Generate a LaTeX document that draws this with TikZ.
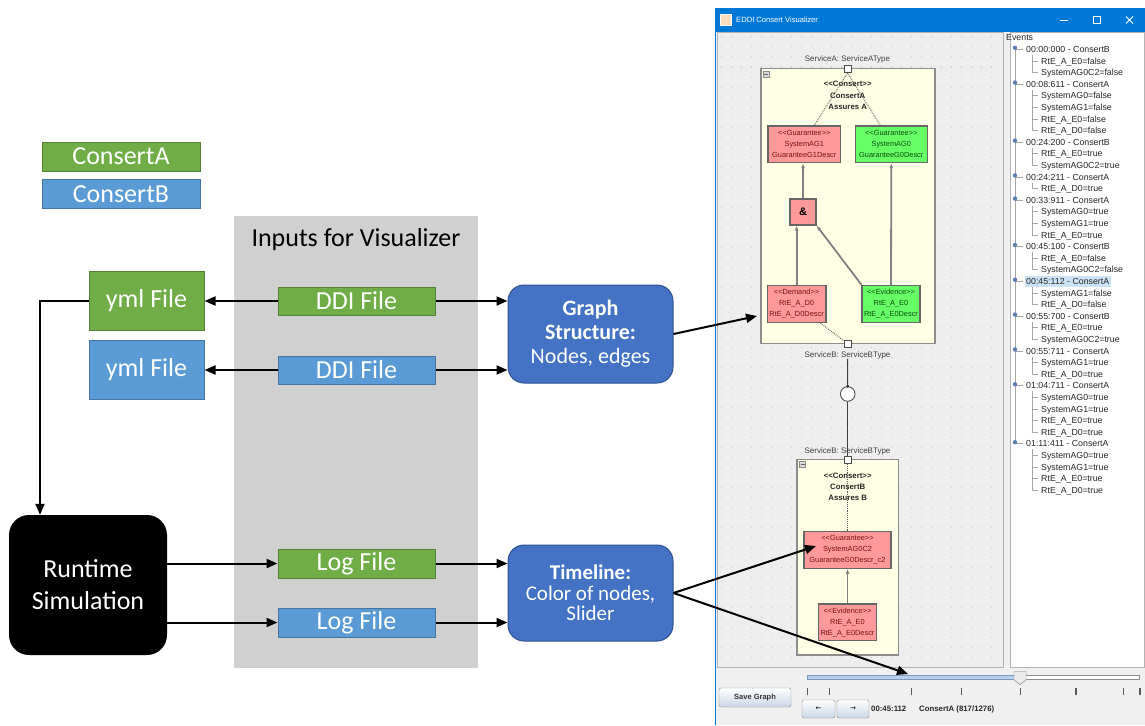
\documentclass[tikz,border=0pt]{standalone}
\usepackage{fontspec}
\setmainfont{Carlito}
\newfontfamily\guifont{Liberation Sans}
\newfontfamily\symfont{DejaVu Sans}
\usetikzlibrary{arrows.meta}

\definecolor{consA}{HTML}{70AD47}
\definecolor{consB}{HTML}{5B9BD5}
\definecolor{panelgray}{HTML}{D0D0D0}
\definecolor{gsblue}{HTML}{4472C4}
\definecolor{gsborder}{HTML}{2F528F}
\definecolor{titleblue}{HTML}{0078D7}
\definecolor{winbg}{HTML}{F0F0F0}
\definecolor{gridbg}{HTML}{EEEEEE}
\definecolor{svcyel}{HTML}{FFFFE6}
\definecolor{reqred}{HTML}{FF9A9A}
\definecolor{okgreen}{HTML}{66FF66}
\definecolor{reqtxt}{HTML}{7A1010}
\definecolor{oktxt}{HTML}{0B4D0B}
\definecolor{btnblue}{HTML}{C9D6E6}
\definecolor{slidefill}{HTML}{B8CFE8}
\definecolor{slideblue}{HTML}{7C9CC8}
\definecolor{treeknob}{HTML}{5B7FB0}
\definecolor{hilite}{HTML}{CCE3F7}

\newcommand\stereo[1]{<{}<#1>{}>}

\tikzset{
  legbox/.style={rectangle, draw=#1!75!black, fill=#1, text=white, line width=1pt,
          minimum width=158pt, minimum height=29pt, inner sep=0pt,
          font=\fontsize{26}{30}\selectfont},
  filebox/.style={rectangle, draw=#1!75!black, fill=#1, text=white, line width=1pt,
          inner sep=0pt, font=\fontsize{26}{30}\selectfont},
  rbox/.style={rectangle, rounded corners=16pt, draw=gsborder, fill=gsblue, text=white,
          line width=1pt, align=center, minimum width=165pt, inner sep=0pt},
  arr/.style={-{Triangle[length=11pt,width=9pt]}, line width=2pt},
  svcbox/.style={rectangle, fill=svcyel, draw=black!45, line width=1.6pt, inner sep=0pt},
  svclbl/.style={inner sep=0pt, text=black!75, font=\guifont\fontsize{8}{9}\selectfont},
  port/.style={rectangle, fill=white, draw=black!70, line width=0.8pt,
          minimum size=7pt, inner sep=0pt},
  mini/.style={rectangle, fill=black!15, draw=black!45, line width=0.5pt,
          minimum size=6pt, inner sep=0pt},
  cons/.style={align=center, inner sep=0pt, text=black!85,
          font=\guifont\bfseries\fontsize{7.8}{11.2}\selectfont},
  reqbox/.style={rectangle, fill=reqred, draw=black!60, line width=1.1pt, text=reqtxt,
          align=center, inner sep=0pt, font=\guifont\fontsize{7.4}{11}\selectfont},
  okbox/.style={reqbox, fill=okgreen, text=oktxt},
  garr/.style={-{Latex[length=5pt,width=4pt]}, draw=black!50, line width=1.8pt},
  dotlink/.style={densely dotted, draw=black!65, line width=0.9pt},
  wire/.style={draw=black!75, line width=1pt},
  gridpt/.style={draw=black!20, line width=1pt, dash pattern=on 1pt off 9pt},
  evtext/.style={anchor=base west, inner sep=0pt, text=black!85,
          font=\guifont\fontsize{8.8}{10}\selectfont},
  treeln/.style={draw=black!35, line width=0.6pt},
  btn/.style={rectangle, draw=black!45, top color=white, bottom color=btnblue,
          rounded corners=1.5pt, inner sep=0pt},
  stat/.style={anchor=west, inner sep=0pt, text=black!85,
          font=\guifont\bfseries\fontsize{7.8}{9}\selectfont},
}

\begin{document}
\begin{tikzpicture}[x=1pt,y=-1pt]
\useasboundingbox (0,0) rectangle (1145,725);
\fill[white] (0,0) rectangle (1145,725);

% legend
\node[legbox=consA] (legA) at (121,156.5) {ConsertA};
\node[legbox=consB] (legB) at (121,194) {ConsertB};

% inputs
\node[rectangle, fill=panelgray, minimum width=244pt, minimum height=452pt,
      inner sep=0pt] (inp) at (356,442) {};
\node[font=\fontsize{26}{30}\selectfont] (inptitle) at (356,240) {Inputs for Visualizer};

\node[filebox=consA, minimum width=115pt, minimum height=59pt] (ymlA) at (146.5,300.5) {yml File};
\node[filebox=consB, minimum width=115pt, minimum height=59pt] (ymlB) at (146.5,369.5) {yml File};
\node[filebox=consA, minimum width=157pt, minimum height=28pt] (ddiA) at (356.5,301) {DDI File};
\node[filebox=consB, minimum width=157pt, minimum height=28pt] (ddiB) at (356.5,370) {DDI File};
\node[filebox=consA, minimum width=157pt, minimum height=29pt] (logA) at (356.5,563.5) {Log File};
\node[filebox=consB, minimum width=157pt, minimum height=29pt] (logB) at (356.5,622.5) {Log File};

\node[rectangle, rounded corners=20pt, fill=black, text=white, align=center,
      minimum width=158pt, minimum height=140pt, inner sep=0pt,
      font=\fontsize{26}{32}\selectfont] (rt) at (88,585) {Runtime\\Simulation};

\node[rbox, minimum height=98pt, font=\fontsize{22}{24}\selectfont] (gs)
      at (590.5,334) {\textbf{Graph}\\\textbf{Structure:}\\Nodes, edges};
\node[rbox, minimum height=96pt, font=\fontsize{21}{20.5}\selectfont] (tl)
      at (590.5,593) {\textbf{Timeline:}\\Color of nodes,\\Slider};

\draw[arr] (ddiA.west) -- (ddiA.west -| ymlA.east);
\draw[arr] (ddiB.west) -- (ddiB.west -| ymlB.east);
\draw[arr] (ddiA.east) -- (ddiA.east -| gs.west);
\draw[arr] (ddiB.east) -- (ddiB.east -| gs.west);
\draw[arr] (ymlA.west) -| ([xshift=-48pt]rt.north);
\draw[arr] (rt.east |- logA) -- (logA.west);
\draw[arr] (rt.east |- logB) -- (logB.west);
\draw[arr] (logA.east) -- (logA.east -| tl.west);
\draw[arr] (logB.east) -- (logB.east -| tl.west);

% visualizer window
\fill[winbg] (715,8) rectangle (1145,725);
\fill[titleblue] (715,8) rectangle (1145,32);
\draw[titleblue, line width=1pt] (715.5,8) -- (715.5,725);
\node[rectangle, minimum size=11pt, inner sep=0pt, fill=white!75!orange, draw=white] (ico) at (726,20) {};
\node[anchor=west, inner sep=0pt, text=white, font=\guifont\fontsize{7.6}{9}\selectfont] (ttl)
      at (736,20) {EDDI Consert Visualizer};
\draw[white, line width=0.8pt] (1060,20) -- (1068,20);
\draw[white, line width=0.8pt] (1093,16.5) rectangle (1100.5,23.5);
\draw[white, line width=0.8pt] (1126,16.5) -- (1133,23.5) (1126,23.5) -- (1133,16.5);

\fill[gridbg] (717.5,32) rectangle (1003,667);
\foreach \gy in {37,47,...,657}
  \draw[gridpt] (721,\gy) -- (1001,\gy);
\draw[black!30] (717.5,32) rectangle (1003,667);
\fill[white] (1010,32) rectangle (1144,667);
\draw[black!30] (1010,32) rectangle (1144,667);

% ConsertA component
\node[svcbox, minimum width=174pt, minimum height=275pt] (svcA) at (848,206) {};
\node[svclbl] (lblA) at (847.5,59) {ServiceA: ServiceAType};
\node[mini] (minA) at (766,74.5) {};
\draw[black!60, line width=0.6pt] ([xshift=-1.8pt]minA.center) -- ([xshift=1.8pt]minA.center);
\node[cons] (cA) at (847.7,95.5) {\stereo{Consert}\\ConsertA\\Assures A};
\node[reqbox, minimum width=72.7pt, minimum height=36.7pt] (g1) at (804.3,144.3)
      {\stereo{Guarantee}\\SystemAG1\\GuaranteeG1Descr};
\node[okbox, minimum width=72pt, minimum height=36.7pt] (g0) at (891.3,144.3)
      {\stereo{Guarantee}\\SystemAG0\\GuaranteeG0Descr};
\node[reqbox, minimum size=26pt, text=black, font=\guifont\bfseries\fontsize{11}{12}\selectfont]
      (and) at (803,212) {\&};
\node[reqbox, minimum width=58.7pt, minimum height=37.4pt] (dem) at (796.6,304)
      {\stereo{Demand}\\RtE\_A\_D0\\RtE\_A\_D0Descr};
\node[okbox, minimum width=58pt, minimum height=37.4pt] (evA) at (891,304)
      {\stereo{Evidence}\\RtE\_A\_E0\\RtE\_A\_E0Descr};
\node[port] (pA) at (847.5,69) {};
\node[port] (pA2) at (847.5,343.5) {};

\draw[dotlink] (pA.south) -- ([xshift=10pt]g1.north);
\draw[dotlink] (pA.south) -- ([xshift=-11pt]g0.north);
\draw[garr] (and.north) -- (and.north |- g1.south);
\draw[garr] (dem.north) -- (dem.north |- and.south);
\draw[garr] (evA.north west) -- (and.south east);
\draw[garr] (evA.north) -- (g0.south);
\draw[dotlink] ([xshift=-6pt]dem.south east) -- (pA2);

% link to ConsertB
\node[svclbl] (lblB1) at (847.5,355) {ServiceB: ServiceBType};
\node[circle, fill=white, draw=black!70, line width=0.9pt, minimum size=14.6pt, inner sep=0pt]
      (ring) at (847.7,394) {};
\draw[wire] (lblB1.south) -- (ring.north);
\fill[black!80] (ring.north) circle (1.7pt);

% ConsertB component
\node[svcbox, minimum width=101.6pt, minimum height=195.7pt] (svcB) at (847.5,557.2) {};
\node[svclbl] (lblB2) at (847.5,451) {ServiceB: ServiceBType};
\node[mini] (minB) at (802.7,464.5) {};
\draw[black!60, line width=0.6pt] ([xshift=-1.8pt]minB.center) -- ([xshift=1.8pt]minB.center);
\node[cons] (cB) at (847.7,486.7) {\stereo{Consert}\\ConsertB\\Assures B};
\node[reqbox, minimum width=87pt, minimum height=36.6pt] (gB) at (847.5,550)
      {\stereo{Guarantee}\\SystemAG0C2\\GuaranteeG0Descr\_c2};
\node[reqbox, minimum width=58.4pt, minimum height=36.7pt] (evB) at (847.5,622.3)
      {\stereo{Evidence}\\RtE\_A\_E0\\RtE\_A\_E0Descr};
\draw[wire] (ring.south) -- (847.7,456.5);
\node[port] (pB) at (847.5,460) {};
\draw[dotlink] (pB.south) -- (gB.north);
\draw[garr] (evB.north) -- (gB.south);

% event tree
\node[evtext] (evroot) at (1006,40.5) {Events};
\fill[hilite] (1025,275.5) rectangle (1111,287);
\draw[treeln] (1015,49.3) -- (1015,443.7);
\foreach \ek/\et [count=\i] in {h/00:00:000 - ConsertB, f/RtE\_A\_E0=false, c/SystemAG0C2=false,
    h/00:08:611 - ConsertA, f/SystemAG0=false, c/SystemAG1=false, c/RtE\_A\_E0=false, c/RtE\_A\_D0=false,
    h/00:24:200 - ConsertB, f/RtE\_A\_E0=true, c/SystemAG0C2=true,
    h/00:24:211 - ConsertA, f/RtE\_A\_D0=true,
    h/00:33:911 - ConsertA, f/SystemAG0=true, c/SystemAG1=true, c/RtE\_A\_E0=true,
    h/00:45:100 - ConsertB, f/RtE\_A\_E0=false, c/SystemAG0C2=false,
    h/00:45:112 - ConsertA, f/SystemAG1=false, c/RtE\_A\_D0=false,
    h/00:55:700 - ConsertB, f/RtE\_A\_E0=true, c/SystemAG0C2=true,
    h/00:55:711 - ConsertA, f/SystemAG1=true, c/RtE\_A\_D0=true,
    h/01:04:711 - ConsertA, f/SystemAG0=true, c/SystemAG1=true, c/RtE\_A\_E0=true, c/RtE\_A\_D0=true,
    h/01:11:411 - ConsertA, f/SystemAG0=true, c/SystemAG1=true, c/RtE\_A\_E0=true, c/RtE\_A\_D0=true}
{
  \pgfmathsetmacro\ey{49.3+(\i-1)*11.6}
  \if h\ek
    \draw[treeln] (1015,\ey) -- (1023,\ey);
    \fill[treeknob] (1015,\ey-1.5) circle (2.2pt);
    \node[evtext] (ev\i) at (1026,\ey+3.2) {\et};
  \else
    \if f\ek
      \draw[treeln] (1032,\ey-6) -- (1032,\ey) -- (1038,\ey);
    \else
      \draw[treeln] (1032,\ey-11.6) -- (1032,\ey) -- (1038,\ey);
    \fi
    \node[evtext] (ev\i) at (1041,\ey+3.2) {\et};
  \fi
}

% slider and buttons
\draw[black!45, fill=white] (807,675.5) rectangle (1139,679.5);
\draw[slideblue, fill=slidefill] (807,675.5) rectangle (1020,679.5);
\draw[black!55, fill=black!8] (1014,671.5) -- (1026,671.5) -- (1026,680)
      -- (1020,684.5) -- (1014,680) -- cycle;
\foreach \tx in {807.7,829.3,911.7,961.7,1020.7,1076,1123.3,1140}
  \draw[black!65, line width=1.2pt] (\tx,688) -- (\tx,694.5);
\node[btn, minimum width=72pt, minimum height=19pt, text=black!80,
      font=\guifont\bfseries\fontsize{7.5}{9}\selectfont] (save) at (755,697.5) {Save Graph};
\node[btn, minimum width=33pt, minimum height=18pt, font=\symfont\fontsize{7}{8}\selectfont]
      (prev) at (818.5,709) {←};
\node[btn, minimum width=32pt, minimum height=18pt, font=\symfont\fontsize{7}{8}\selectfont]
      (next) at (853,709) {→};
\node[stat] (stime) at (871,709) {00:45:112};
\node[stat] (sname) at (919,709) {ConsertA (817/1276)};

% pointers into the window
\coordinate (tipA) at (757,316);
\coordinate (tipB) at (816,546);
\coordinate (tipC) at (908,674);
\draw[arr] (gs.east) -- (tipA);
\draw[arr] (tl.east) -- (tipB);
\draw[arr] (tl.east) -- (tipC);
\end{tikzpicture}
\end{document}
